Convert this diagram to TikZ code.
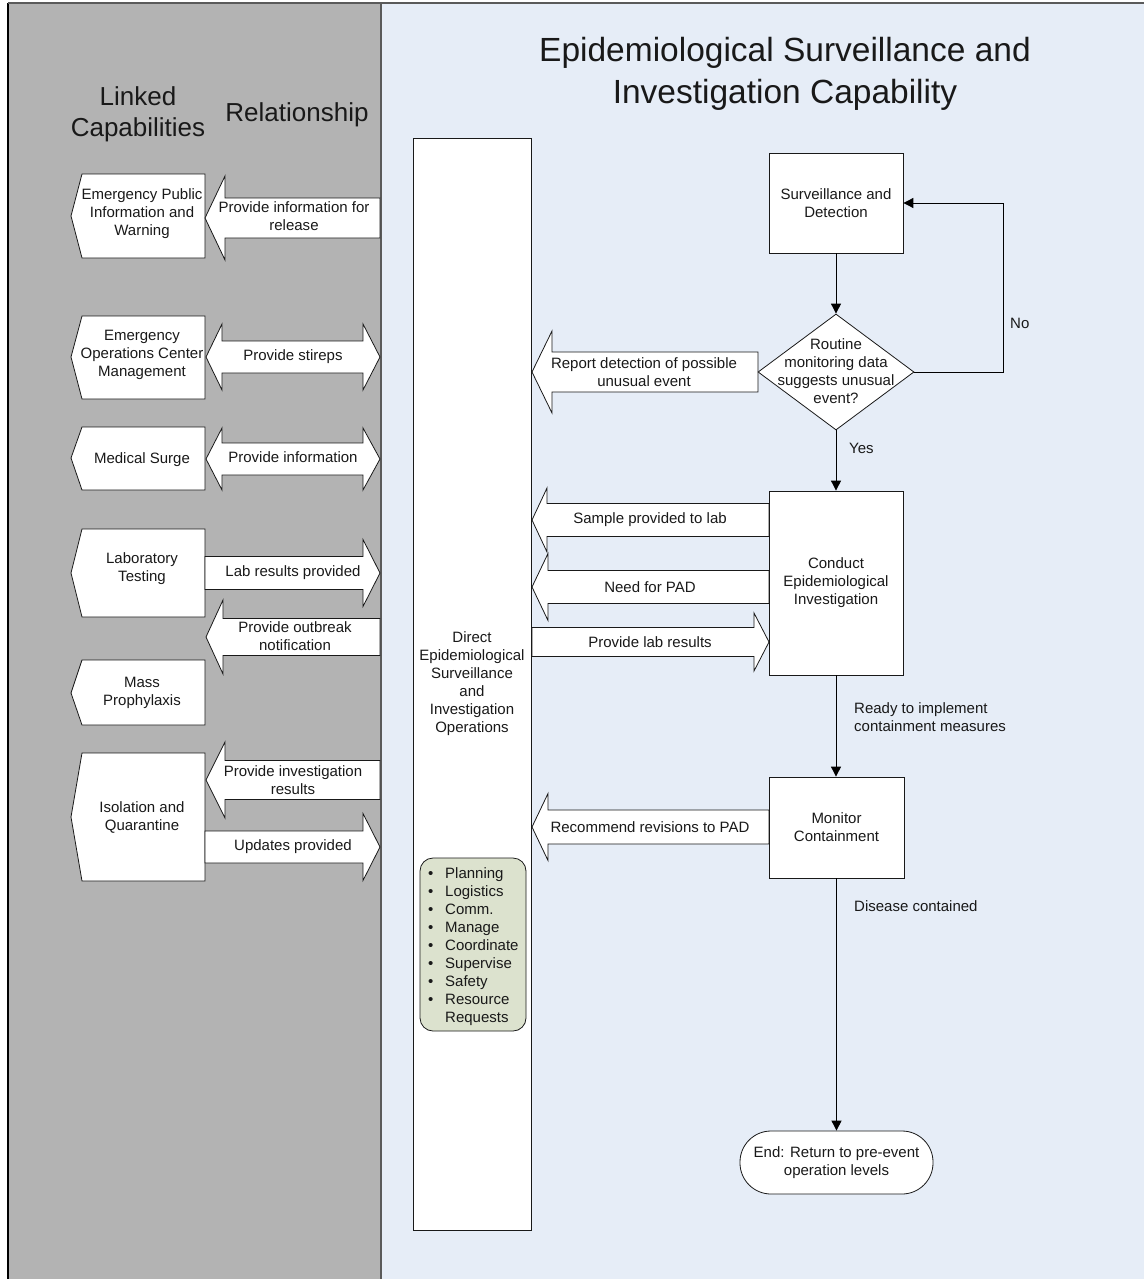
\documentclass[tikz,border=0pt]{standalone}
\usepackage{fontspec}
\setmainfont{Liberation Sans}
\usetikzlibrary{shapes.geometric,arrows.meta}
\definecolor{graypanel}{HTML}{B3B3B3}
\definecolor{bluepanel}{HTML}{E6EDF7}
\definecolor{bulletfill}{HTML}{DCE2CE}
\definecolor{panelline}{HTML}{5A5A5A}
\newcommand\blkL[6]{\draw[blk] (#1,#2) -- (#3,{#2-#4}) -- (#3,{#2-#5}) -- (#6,{#2-#5}) -- (#6,{#2+#5}) -- (#3,{#2+#5}) -- (#3,{#2+#4}) -- cycle;}
\newcommand\blkR[6]{\draw[blk] (#6,#2) -- (#3,{#2-#4}) -- (#3,{#2-#5}) -- (#1,{#2-#5}) -- (#1,{#2+#5}) -- (#3,{#2+#5}) -- (#3,{#2+#4}) -- cycle;}
\newcommand\blkD[7]{\draw[blk] (#1,#2) -- (#3,{#2-#4}) -- (#3,{#2-#5}) -- (#6,{#2-#5}) -- (#6,{#2-#4}) -- (#7,#2) -- (#6,{#2+#4}) -- (#6,{#2+#5}) -- (#3,{#2+#5}) -- (#3,{#2+#4}) -- cycle;}
\newcommand\capshape[3]{\draw[blk] (82,#1) -- (205,#1) -- (205,#2) -- (82,#2) -- (71,#3) -- cycle;}
\begin{document}
\begin{tikzpicture}[x=1pt,y=-1pt,
  txt/.style={font=\fontsize{15}{18}\selectfont, align=center, inner sep=0pt, text=black!90},
  blk/.style={draw=black!90, fill=white, line width=0.8pt, line join=miter},
  boxnode/.style={draw=black!90, fill=white, line width=0.8pt, rectangle, inner sep=0pt, txt},
  conn/.style={draw=black, line width=0.9pt, -{Triangle[length=10pt,width=10pt]}},
  big/.style={font=\fontsize{26}{31}\selectfont, align=center, inner sep=0pt, text=black!90}]
\useasboundingbox (0,0) rectangle (1144,1279);
\fill[white] (0,0) rectangle (1144,1279);
% panels
\fill[graypanel] (8,3) rectangle (381,1279);
\fill[bluepanel] (381,3) rectangle (1144,1279);
\draw[black, line width=1.5pt] (8,1279) -- (8,3);
\draw[panelline, line width=2pt] (8,3) -- (1144,3);
\draw[panelline, line width=2pt] (381,3) -- (381,1279);
% headings
\node[big] (hlinked) at (138,114) {Linked\\Capabilities};
\node[big] (hrel) at (297,115) {Relationship};
\node[font=\fontsize{33.5}{42}\selectfont, align=center, inner sep=0pt, text=black!90] (title) at (785,74) {Epidemiological Surveillance and\\Investigation Capability};
% linked capabilities
\capshape{174}{258}{216}
\node[txt] (cap1) at (142,214) {Emergency Public\\Information and\\Warning};
\capshape{316}{399}{357}
\node[txt] (cap2) at (142,355) {Emergency\\Operations Center\\Management};
\capshape{427}{490}{458}
\node[txt] (cap3) at (142,460) {Medical Surge};
\capshape{529}{617}{573}
\node[txt] (cap4) at (142,569) {Laboratory\\Testing};
\capshape{660}{725}{693}
\node[txt] (cap5) at (142,693) {Mass\\Prophylaxis};
\capshape{753}{881}{817}
\node[txt] (cap6) at (142,817) {Isolation and\\Quarantine};
% relationship arrows
\blkL{205}{218}{225}{42}{20}{380}
\node[txt] (rel1) at (294,216) {Provide information for\\release};
\blkD{206}{357}{222}{33}{16}{363}{380}
\node[txt] (rel2) at (293,357) {Provide stireps};
\blkD{206}{459}{222}{31}{16}{363}{380}
\node[txt] (rel3) at (293,457) {Provide information};
\blkR{205}{573}{363}{33.5}{16.5}{380}
\node[txt] (rel4) at (293,573) {Lab results provided};
\blkL{206}{637}{223}{37}{18.5}{380}
\node[txt] (rel5) at (295,636) {Provide outbreak\\notification};
\blkL{206}{780}{225}{38}{19.5}{380}
\node[txt] (rel6) at (293,780) {Provide investigation\\results};
\blkR{205}{847}{363}{33.5}{16}{380}
\node[txt] (rel7) at (293,847) {Updates provided};
% central column
\draw[blk] (413,138) rectangle (531,1230);
\node[txt] (direct) at (472,684) {Direct\\Epidemiological\\Surveillance\\and\\Investigation\\Operations};
\draw[draw=black!90, fill=bulletfill, line width=0.8pt, rounded corners=13pt] (420,858) rectangle (526,1031);
\node[txt, align=left, anchor=north west] (blist) at (428,867) {\makebox[17pt][l]{•}Planning\\\makebox[17pt][l]{•}Logistics\\\makebox[17pt][l]{•}Comm.\\\makebox[17pt][l]{•}Manage\\\makebox[17pt][l]{•}Coordinate\\\makebox[17pt][l]{•}Supervise\\\makebox[17pt][l]{•}Safety\\\makebox[17pt][l]{•}Resource\\\hspace*{17pt}Requests};
% flow block arrows
\blkL{532}{372}{552}{41}{20}{758}
\node[txt] (ba1) at (644,372) {Report detection of possible\\unusual event};
\blkL{532}{520}{547}{32}{16.5}{769}
\node[txt] (ba2) at (650,520) {Sample provided to lab};
\blkL{532}{587}{548}{33.5}{16.5}{769}
\node[txt] (ba3) at (650,587) {Need for PAD};
\blkR{532}{642}{754}{29}{14.5}{769}
\node[txt] (ba4) at (650,642) {Provide lab results};
\blkL{532}{827}{548}{33.5}{17}{769}
\node[txt] (ba5) at (650,827) {Recommend revisions to PAD};
% flowchart nodes
\node[boxnode, minimum width=134pt, minimum height=100pt] (sd) at (836,203) {Surveillance and\\Detection};
\node[draw=black!90, fill=white, line width=0.8pt, diamond, inner sep=0pt, minimum width=156pt, minimum height=116pt] (dec) at (836,372) {};
\node[txt] (dectext) at (836,371.5) {Routine\\monitoring data\\suggests unusual\\event?};
\node[boxnode, minimum width=134pt, minimum height=184pt] (ci) at (836,583) {Conduct\\Epidemiological\\Investigation};
\node[boxnode, minimum width=135pt, minimum height=101pt] (mc) at (836.5,827.5) {Monitor\\Containment};
\node[boxnode, rounded corners=31pt, minimum width=193pt, minimum height=63pt] (end) at (836.5,1162.5) {End: Return to pre-event\\operation levels};
% connectors
\coordinate (loop) at (1003,203);
\draw[conn] (sd.south) -- (dec.north);
\draw[conn] (dec.east) -| (loop) -- (sd.east);
\draw[conn] (dec.south) -- (ci.north);
\draw[conn] (ci.south) -- (ci.south |- mc.north);
\draw[conn] (mc.south) -- (mc.south |- end.north);
% labels
\node[txt, anchor=west] (lno) at (1010,323) {No};
\node[txt, anchor=west] (lyes) at (849,448) {Yes};
\node[txt, anchor=west, align=left] (lready) at (854,717) {Ready to implement\\containment measures};
\node[txt, anchor=west] (ldis) at (854,906) {Disease contained};
\end{tikzpicture}
\end{document}
